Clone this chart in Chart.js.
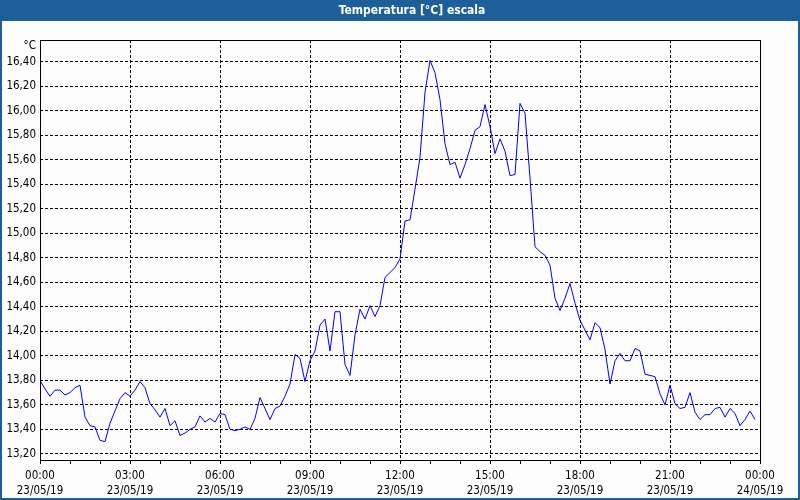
<!DOCTYPE html>
<html>
<head>
<meta charset="utf-8">
<script src="https://cdn.jsdelivr.net/npm/chart.js@4"></script>
<style>
  html, body { margin: 0; padding: 0; background: #fcfdfc; }
  canvas { display: block; }
</style>
</head>
<body>
<canvas id="tempChart" width="800" height="500"></canvas>
<script>
// one reading every 10 minutes, 23/05/19 00:00 -> 23:50
const sampleMinutes = 10
const temps = [
  13.80, 13.73, 13.67, 13.72, 13.72, 13.68, 13.70, 13.74, 13.76, 13.50,
  13.43, 13.42, 13.31, 13.30, 13.45, 13.55, 13.65, 13.70, 13.67, 13.72,
  13.79, 13.74, 13.61, 13.56, 13.50, 13.57, 13.43, 13.47, 13.35, 13.37,
  13.40, 13.42, 13.51, 13.46, 13.49, 13.46, 13.53, 13.52, 13.40, 13.39,
  13.40, 13.42, 13.40, 13.49, 13.66, 13.57, 13.48, 13.57, 13.59, 13.67,
  13.77, 14.01, 13.98, 13.79, 13.96, 14.04, 14.25, 14.30, 14.04, 14.36,
  14.36, 13.93, 13.84, 14.17, 14.38, 14.30, 14.41, 14.32, 14.41, 14.64,
  14.68, 14.72, 14.79, 15.10, 15.11, 15.36, 15.62, 16.15, 16.41, 16.31,
  16.09, 15.73, 15.56, 15.58, 15.45, 15.56, 15.69, 15.84, 15.87, 16.05,
  15.87, 15.65, 15.77, 15.67, 15.47, 15.48, 16.06, 15.98, 15.45, 14.89,
  14.85, 14.82, 14.74, 14.47, 14.37, 14.47, 14.59, 14.43, 14.29, 14.21,
  14.13, 14.27, 14.23, 14.05, 13.77, 13.96, 14.02, 13.96, 13.96, 14.06,
  14.04, 13.85, 13.84, 13.83, 13.69, 13.60, 13.76, 13.61, 13.57, 13.58,
  13.70, 13.54, 13.48, 13.52, 13.52, 13.57, 13.58, 13.50, 13.57, 13.53,
  13.43, 13.48, 13.55, 13.48
]

// axis labels
const xTickTimes = ['00:00', '03:00', '06:00', '09:00', '12:00', '15:00', '18:00', '21:00', '00:00']
const xTickDates = ['23/05/19', '23/05/19', '23/05/19', '23/05/19', '23/05/19', '23/05/19', '23/05/19', '23/05/19', '24/05/19']
const yTicks = [13.2, 13.4, 13.6, 13.8, 14.0, 14.2, 14.4, 14.6, 14.8, 15.0, 15.2, 15.4, 15.6, 15.8, 16.0, 16.2, 16.4]

const titleText = 'Temperatura [°C] escala'
const unitText = '°C'
const barBlue = '#1d5f98'
const fontFam = '"DejaVu Sans Condensed", "DejaVu Sans", sans-serif'

// hourly tick marks, labels only every 3 hours
const hourMarks = []
for (let h = 0; h <= 24; h++) hourMarks.push(h * 60)

const points = temps.map((t, i) => ({ x: i * sampleMinutes, y: t }))

// title bar, frame and the little unit label
const decorPlugin = {
  id: 'decor',
  beforeDraw(chart) {
    const c = chart.ctx
    c.save()
    c.fillStyle = '#fcfdfc'
    c.fillRect(0, 0, chart.width, chart.height)
    c.fillStyle = barBlue
    c.fillRect(0, 0, chart.width, 21)
    c.fillStyle = '#ffffff'
    c.font = 'bold 12px ' + fontFam
    c.textAlign = 'center'
    c.textBaseline = 'middle'
    c.fillText(titleText, 412, 11)
    c.fillStyle = '#000'
    c.font = '11.5px ' + fontFam
    c.textAlign = 'right'
    c.fillText(unitText, 36, 46)
    c.restore()
  },
  afterDraw(chart) {
    const c = chart.ctx
    const a = chart.chartArea
    c.save()
    c.strokeStyle = '#000'
    c.lineWidth = 1
    c.strokeRect(Math.round(a.left) + 0.5, Math.round(a.top) + 0.5, Math.round(a.right - a.left), Math.round(a.bottom - a.top))
    c.strokeStyle = barBlue
    c.lineWidth = 2
    c.beginPath()
    c.moveTo(1, 21); c.lineTo(1, chart.height - 1)
    c.lineTo(chart.width - 1, chart.height - 1); c.lineTo(chart.width - 1, 21)
    c.stroke()
    c.restore()
  }
}

const ctx = document.getElementById('tempChart').getContext('2d')
const tempChart = new Chart(ctx, {
  type: 'line',
  data: {
    datasets: [{
      label: 'Temperatura',
      data: points,
      borderColor: '#0000ff',
      borderWidth: 1,
      pointRadius: 0,
      tension: 0,
      fill: false
    }]
  },
  options: {
    responsive: false,
    animation: false,
    layout: { padding: { top: 40, right: 40, left: 0, bottom: 0 } },
    plugins: {
      legend: { display: false },
      tooltip: { enabled: false }
    },
    scales: {
      x: {
        type: 'linear',
        min: 0,
        max: 1440,
        afterFit: s => { s.height = 40 },
        afterBuildTicks: s => { s.ticks = hourMarks.map(v => ({ value: v })) },
        grid: {
          color: c => (c.tick && c.tick.value % 180 === 0) ? '#000' : 'rgba(0,0,0,0)',
          lineWidth: 1,
          tickLength: 4,
          tickColor: '#000'
        },
        border: { display: false, dash: [3, 2] },
        ticks: {
          autoSkip: false,
          maxRotation: 0,
          padding: 5,
          color: '#000',
          font: { family: fontFam, size: 11.5, lineHeight: 1.3 },
          callback: v => {
            if (v % 180 !== 0) return ''
            const k = v / 180
            return [xTickTimes[k], xTickDates[k]]
          }
        }
      },
      y: {
        min: 13.15,
        max: 16.577,
        afterFit: s => { s.width = 40 },
        afterBuildTicks: s => { s.ticks = yTicks.map(v => ({ value: v })) },
        grid: { color: '#000', lineWidth: 1, drawTicks: false },
        border: { display: false, dash: [3, 2] },
        ticks: {
          padding: 4,
          color: '#000',
          font: { family: fontFam, size: 11.5 },
          callback: v => v.toFixed(2).replace('.', ',')
        }
      }
    }
  },
  plugins: [decorPlugin]
})
</script>
</body>
</html>
